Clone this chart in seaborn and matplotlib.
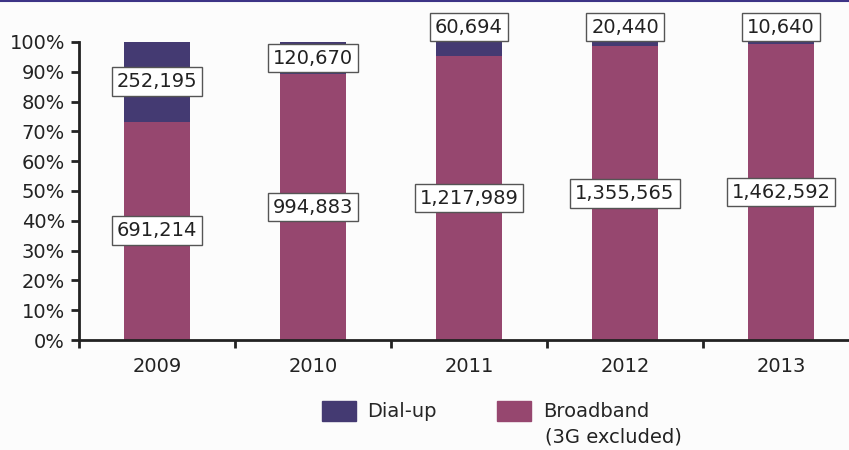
import numpy as np
import pandas as pd
import matplotlib
matplotlib.use("Agg")
import matplotlib.pyplot as plt
import matplotlib.patches as mpatches
from matplotlib.lines import Line2D
import seaborn as sns

# data
years = ["2009", "2010", "2011", "2012", "2013"]
dialup = [252195, 120670, 60694, 20440, 10640]
broadband = [691214, 994883, 1217989, 1355565, 1462592]
# where the dial-up label sits (None = middle of segment)
dialup_label_y = [None, None, 105, 105, 105]

DIAL_COLOR = "#443a72"
BROAD_COLOR = "#96476f"
BG = "#fcfcfc"
INK = "#222222"

df = pd.DataFrame({"year": years, "dialup": dialup, "broadband": broadband})
df["total"] = df["dialup"] + df["broadband"]
df["broad_pct"] = df["broadband"] / df["total"] * 100
df["all_pct"] = 100.0

sns.set_style("white")
plt.rcParams["font.family"] = ["DejaVu Sans"]
plt.rcParams["font.size"] = 14

fig = plt.figure(figsize=(8.49, 4.5), dpi=100, facecolor=BG)
ax = fig.add_axes([79 / 849, 1 - 340 / 450, 780 / 849, 298 / 450])
ax.set_facecolor(BG)

# full bar in dial-up colour, broadband drawn over it
sns.barplot(data=df, x="year", y="all_pct", color=DIAL_COLOR, width=0.42,
            saturation=1, linewidth=0, ax=ax)
sns.barplot(data=df, x="year", y="broad_pct", color=BROAD_COLOR, width=0.42,
            saturation=1, linewidth=0, ax=ax)

ax.set_xlim(-0.5, 4.5)
ax.set_ylim(0, 100)
ax.set_yticks(np.arange(0, 101, 10))
ax.set_yticklabels([f"{v}%" for v in range(0, 101, 10)], color=INK)
ax.set_xlabel("")
ax.set_ylabel("")
ax.tick_params(axis="x", which="major", bottom=True, length=0, pad=12,
               colors=INK)
ax.set_xticks(np.arange(-0.5, 4.6, 1), minor=True)
ax.tick_params(axis="x", which="minor", bottom=True, length=6, width=2,
               direction="out", color=INK)
ax.tick_params(axis="y", left=True, length=6, width=2, direction="out",
               color=INK, pad=4)
for s in ["top", "right"]:
    ax.spines[s].set_visible(False)
for s in ["left", "bottom"]:
    ax.spines[s].set_color(INK)
    ax.spines[s].set_linewidth(2)

box = dict(boxstyle="square,pad=0.25", facecolor="white",
           edgecolor="#555555", linewidth=1)
for i, row in df.iterrows():
    ax.text(i, row["broad_pct"] / 2, f"{row['broadband']:,}", ha="center",
            va="center", bbox=box, color=INK, clip_on=False)
    y = dialup_label_y[i]
    if y is None:
        y = row["broad_pct"] + (100 - row["broad_pct"]) / 2
    ax.text(i, y, f"{row['dialup']:,}", ha="center", va="center", bbox=box,
            color=INK, clip_on=False)

handles = [mpatches.Patch(color=DIAL_COLOR, label="Dial-up"),
           mpatches.Patch(color=BROAD_COLOR, label="Broadband")]
fig.legend(handles=handles, loc="center left",
           bbox_to_anchor=(304 / 849, 1 - 411 / 450),
           ncol=2, frameon=False, handlelength=1.75, handleheight=1.2,
           columnspacing=3.1, handletextpad=0.6, fontsize=14)
fig.text(545 / 849, 1 - 437 / 450, "(3G excluded)", ha="left", va="center",
         color=INK, fontsize=14)

# thin purple rule at the very top
fig.add_artist(Line2D([0, 1], [0.998, 0.998], color="#3d3486", linewidth=1.5,
                      transform=fig.transFigure))

fig.savefig("out.png", dpi=100, facecolor=BG)
